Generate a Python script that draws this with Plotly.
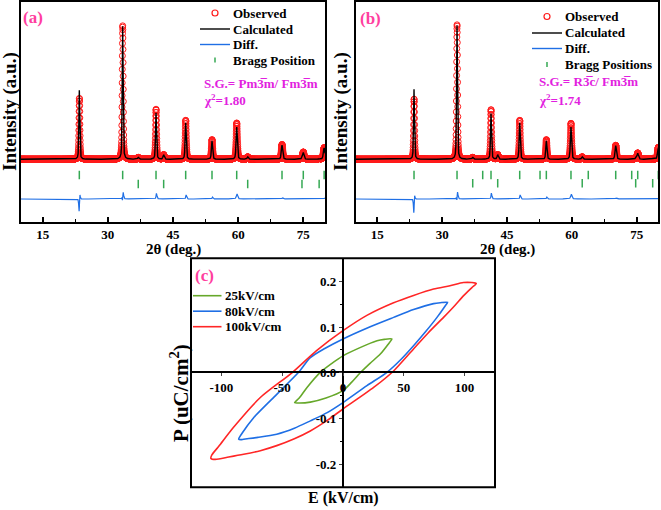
import numpy as np
import plotly.graph_objects as go

W, H = 661, 510
FONT = "Liberation Serif"

# ---------------- data: panel (a)  Pm-3m / Fm-3m ----------------
a_bragg1 = [23.43, 33.41, 41.09, 47.92, 53.98, 59.67, 70.10, 75.00, 79.80]
a_bragg2 = [37.00, 42.85, 62.20, 74.70, 78.65]
a_obs_pos = [23.45, 33.415, 41.10, 47.93, 53.99, 59.68, 70.11, 75.01, 79.81]
a_obs_h = [610, 1336, 500, 390, 196, 363, 148, 71, 117]
a_calc_h = [690, 1330, 465, 365, 185, 322, 142, 66, 113]
a_fwhm = [0.24, 0.25, 0.27, 0.29, 0.31, 0.33, 0.37, 0.39, 0.42]
a_sec_h = [18, 45, 24, 10, 7]

# ---------------- data: panel (b)  R-3c / Fm-3m ----------------
b_bragg1 = [23.49, 33.44, 39.38, 41.30, 47.94, 52.64, 54.10, 59.80, 63.80, 70.15, 73.85, 75.24, 80.00]
b_bragg2 = [37.07, 42.85, 62.40, 74.77, 78.70]
b_obs_pos = [23.51, 33.445, 39.38, 41.31, 47.95, 52.64, 54.11, 59.81, 63.80, 70.16, 73.85, 75.25, 80.00]
b_obs_h = [603, 1346, 6, 496, 390, 4, 196, 360, 4, 140, 5, 63, 120]
b_calc_h = [700, 1338, 6, 458, 365, 4, 185, 322, 4, 136, 5, 60, 116]
b_fwhm = [0.24, 0.25, 0.26, 0.27, 0.29, 0.30, 0.31, 0.33, 0.35, 0.37, 0.38, 0.39, 0.42]
b_sec_h = [18, 45, 24, 10, 7]

# ---------------- data: panel (c)  P-E loops ----------------
E_25 = [40.2, 34, 28, 14, 0, -10, -18.7, -29.6, -36, -39.8, -36, -26.9, -14, 0, 7, 14.2, 22, 30.7, 37, 40.2]
P_25 = [0.074, 0.073, 0.070, 0.055, 0.037, 0.019, 0.001, -0.032, -0.055, -0.065, -0.066, -0.064, -0.055, -0.039, -0.021, 0.0, 0.020, 0.041, 0.062, 0.074]

E_80 = [86, 80, 74.5, 58, 41.6, 20, 0, -15, -26.9, -36.5, -54.5, -73.5, -83, -85.8, -84, -81.7, -70, -54.5, -40, -26.9, -13, 0, 19.7, 36.2, 48, 58, 68, 77.3, 84, 86]
P_80 = [0.154, 0.153, 0.151, 0.138, 0.121, 0.098, 0.074, 0.053, 0.033, 0.001, -0.047, -0.098, -0.132, -0.145, -0.146, -0.145, -0.141, -0.134, -0.121, -0.105, -0.087, -0.065, -0.028, 0.001, 0.030, 0.059, 0.090, 0.121, 0.146, 0.154]

E_100 = [109.6, 106, 99, 88, 74.5, 58, 41.6, 20, 0, -22, -42, -68, -90, -102, -108, -108.6, -105, -94, -81.7, -68, -54.5, -40, -26.9, -13, 0, 25.2, 41.6, 58, 70, 82.7, 92, 99, 106, 109.6]
P_100 = [0.195, 0.197, 0.197, 0.190, 0.183, 0.169, 0.153, 0.126, 0.092, 0.048, 0.0, -0.054, -0.119, -0.160, -0.180, -0.187, -0.189, -0.184, -0.178, -0.170, -0.159, -0.144, -0.127, -0.104, -0.079, -0.032, 0.004, 0.052, 0.087, 0.121, 0.147, 0.168, 0.186, 0.195]

loop_names = ["25kV/cm", "80kV/cm", "100kV/cm"]
loop_colors = ["#66a82a", "#1f6fe5", "#ff2626"]

# ---------------- helpers ----------------
def fx(px):
    return px / W


def fy(py):
    return 1 - py / H


def pv(x, pos, h, w, eta=0.45):
    d2 = (x - pos) ** 2
    g = np.exp(-4 * np.log(2) * d2 / w ** 2)
    l = 1.0 / (1.0 + 4 * d2 / w ** 2)
    return h * (eta * l + (1 - eta) * g)


def profile(x, pos_list, h_list, w_list, sec_pos, sec_h):
    y = np.zeros_like(x)
    for p, h, w in zip(pos_list, h_list, w_list):
        y += pv(x, p, h, w)
    for p, h in zip(sec_pos, sec_h):
        y += pv(x, p, h, 0.35)
    return y


x_obs = np.arange(10.0, 80.0001, 0.02)
x_calc = np.arange(10.0, 80.0001, 0.01)

RED = "#ff1a1a"
BLUE = "#1f6fe5"
GREEN = "#35a853"
PINK = "#ff3f9f"
MAG = "#e21fe0"

DIFF_OFF = -397
ROW1 = -157
ROW2 = {"a": -247, "b": -240}

fig = go.Figure()

panels = [
    ("a", "x", "y", a_bragg1, a_bragg2, a_obs_pos, a_obs_h, a_calc_h, a_fwhm, a_sec_h),
    ("b", "x2", "y2", b_bragg1, b_bragg2, b_obs_pos, b_obs_h, b_calc_h, b_fwhm, b_sec_h),
]

for key, xa, ya, br1, br2, opos, oh, ch, fw, sh in panels:
    obs = profile(x_obs, opos, oh, [w * 1.04 for w in fw], br2, sh)
    calc_on_obs = profile(x_obs, br1, ch, fw, br2, sh)
    calc = profile(x_calc, br1, ch, fw, br2, sh)
    diff = obs - calc_on_obs + DIFF_OFF
    fig.add_trace(go.Scatter(x=x_obs, y=obs, mode="markers", xaxis=xa, yaxis=ya,
                             marker=dict(symbol="circle-open", size=6, color=RED,
                                         line=dict(width=1, color=RED)),
                             name="Observed", showlegend=False))
    fig.add_trace(go.Scatter(x=x_calc, y=calc, mode="lines", xaxis=xa, yaxis=ya,
                             line=dict(color="black", width=1.4),
                             name="Calculated", showlegend=False))
    fig.add_trace(go.Scatter(x=x_obs, y=diff, mode="lines", xaxis=xa, yaxis=ya,
                             line=dict(color=BLUE, width=1.2),
                             name="Diff.", showlegend=False))
    fig.add_trace(go.Scatter(x=br1, y=[ROW1] * len(br1), mode="markers", xaxis=xa, yaxis=ya,
                             marker=dict(symbol="line-ns-open", size=6, color=GREEN,
                                         line=dict(width=1.5, color=GREEN)),
                             name="Bragg", showlegend=False, cliponaxis=True))
    fig.add_trace(go.Scatter(x=br2, y=[ROW2[key]] * len(br2), mode="markers", xaxis=xa, yaxis=ya,
                             marker=dict(symbol="line-ns-open", size=6, color=GREEN,
                                         line=dict(width=1.5, color=GREEN)),
                             name="Bragg2", showlegend=False, cliponaxis=True))

for E, P, nm, col in zip([E_25, E_80, E_100], [P_25, P_80, P_100], loop_names, loop_colors):
    fig.add_trace(go.Scatter(x=E, y=P, mode="lines", xaxis="x3", yaxis="y3",
                             line=dict(color=col, width=1.6, shape="spline", smoothing=0.7),
                             name=nm, showlegend=False))

tickfont = dict(family=FONT, size=13, color="black", weight="bold")

xrd_x = dict(range=[10, 80], tickvals=[15, 30, 45, 60, 75], ticks="inside", ticklen=5, tickwidth=1.5,
             tickcolor="black", showline=True, linewidth=2, linecolor="black", mirror=True,
             showgrid=False, zeroline=False, tickfont=tickfont,
             minor=dict(tickvals=[22.5, 37.5, 52.5, 67.5], ticks="inside", ticklen=3, tickwidth=1.2,
                        tickcolor="black"))
xrd_y = dict(range=[-624, 1573], showticklabels=False, ticks="", showline=True, linewidth=2,
             linecolor="black", mirror=True, showgrid=False, zeroline=False)

fig.update_layout(
    width=W, height=H, autosize=False,
    margin=dict(l=0, r=0, t=0, b=0),
    paper_bgcolor="white", plot_bgcolor="white",
    showlegend=False,
    font=dict(family=FONT, size=13, color="black"),
    xaxis=dict(domain=[fx(21), fx(325)], anchor="y", **xrd_x),
    yaxis=dict(domain=[fy(221.7), fy(2)], anchor="x", **xrd_y),
    xaxis2=dict(domain=[fx(355.7), fx(658.3)], anchor="y2", **xrd_x),
    yaxis2=dict(domain=[fy(221.7), fy(2)], anchor="x2", **xrd_y),
    xaxis3=dict(domain=[fx(191), fx(495)], range=[-125, 125], anchor="free", position=fy(372.3),
                tickvals=[-100, -50, 0, 50, 100], ticktext=["-100", "-50", "0", "50", "100"],
                showline=True, linewidth=1.5, linecolor="black", ticks="outside", ticklen=3,
                tickwidth=1, showgrid=False, zeroline=False, tickfont=tickfont),
    yaxis3=dict(domain=[fy(487.3), fy(258.3)], range=[-0.25, 0.25], anchor="free", position=fx(342.7),
                tickvals=[-0.2, -0.1, 0, 0.1, 0.2], ticktext=["-0.2", "-0.1", "0.0", "0.1", "0.2"],
                showline=True, linewidth=1.5, linecolor="black", ticks="outside", ticklen=3,
                tickwidth=1, showgrid=False, zeroline=False, tickfont=tickfont,
                minor=dict(tickvals=[-0.15, -0.05, 0.05, 0.15], ticks="outside", ticklen=2,
                           tickcolor="black")),
)

shapes = []
annotations = []

# frame for panel (c)
shapes.append(dict(type="rect", xref="x3 domain", yref="y3 domain", x0=0, x1=1, y0=0, y1=1,
                   line=dict(color="black", width=2), layer="above"))


def text(px, py, s, size=13, color="black", xanchor="left", angle=0, bold=True):
    annotations.append(dict(x=fx(px), y=fy(py), xref="paper", yref="paper", text=s, showarrow=False,
                            xanchor=xanchor, yanchor="middle", textangle=angle,
                            font=dict(family=FONT, size=size, color=color,
                                      weight="bold" if bold else "normal")))


def legend_block(x0, x1, tx, rows, labels):
    xc = (x0 + x1) / 2
    shapes.append(dict(type="circle", xref="paper", yref="paper", xsizemode="pixel", ysizemode="pixel",
                       xanchor=fx(xc), yanchor=fy(rows[0]), x0=-3, x1=3, y0=-3, y1=3,
                       line=dict(color=RED, width=1.2)))
    shapes.append(dict(type="line", xref="paper", yref="paper", x0=fx(x0), x1=fx(x1),
                       y0=fy(rows[1]), y1=fy(rows[1]), line=dict(color="black", width=1.4)))
    shapes.append(dict(type="line", xref="paper", yref="paper", x0=fx(x0), x1=fx(x1),
                       y0=fy(rows[2]), y1=fy(rows[2]), line=dict(color=BLUE, width=1.4)))
    shapes.append(dict(type="line", xref="paper", yref="paper", x0=fx(xc), x1=fx(xc),
                       y0=fy(rows[3] - 2.5), y1=fy(rows[3] + 2.5), line=dict(color=GREEN, width=1.5)))
    for r, lab in zip(rows, labels):
        text(tx, r, lab, size=13)


legend_block(200, 230, 231, [13, 29, 44.5, 60], ["Observed", "Calculated", "Diff.", "Bragg Position"])
legend_block(532, 562, 563, [16.5, 33, 48.5, 64.5], ["Observed", "Calculated", "Diff.", "Bragg Positions"])

# legend for (c)
for r, lab, col in zip([295.7, 311.2, 326.7], loop_names, loop_colors):
    shapes.append(dict(type="line", xref="paper", yref="paper", x0=fx(193), x1=fx(221.5),
                       y0=fy(r), y1=fy(r), line=dict(color=col, width=1.6)))
    text(222.5, r, lab, size=13)

# panel labels
text(33, 18, "(a)", size=17, color=PINK, xanchor="center")
text(370, 19, "(b)", size=17, color=PINK, xanchor="center")
text(205, 275, "(c)", size=17, color=PINK, xanchor="center")

# space group / chi^2
text(202, 84, "S.G.= Pm3\u0305m/ Fm3\u0305m", size=13, color=MAG)
text(202, 100, "\u03c7<sup>2</sup>=1.80", size=13, color=MAG)
text(537, 82, "S.G.= R3\u0305c/ Fm3\u0305m", size=13, color=MAG)
text(537, 100, "\u03c7<sup>2</sup>=1.74", size=13, color=MAG)

# axis titles
text(173, 249, "2\u03b8 (deg.)", size=15, xanchor="center")
text(507, 249, "2\u03b8 (deg.)", size=15, xanchor="center")
text(10, 112, "Intensity (a.u.)", size=19, xanchor="center", angle=-90)
text(341, 112, "Intensity (a.u.)", size=19, xanchor="center", angle=-90)
text(179, 393, "P (uC/cm<sup>2</sup>)", size=21, xanchor="center", angle=-90)
text(343, 498, "E (kV/cm)", size=16, xanchor="center")

fig.update_layout(shapes=shapes, annotations=annotations)

fig.write_html("out.html", config={"displayModeBar": False},
               post_script="document.body.style.margin='0';document.body.style.overflow='hidden';")
